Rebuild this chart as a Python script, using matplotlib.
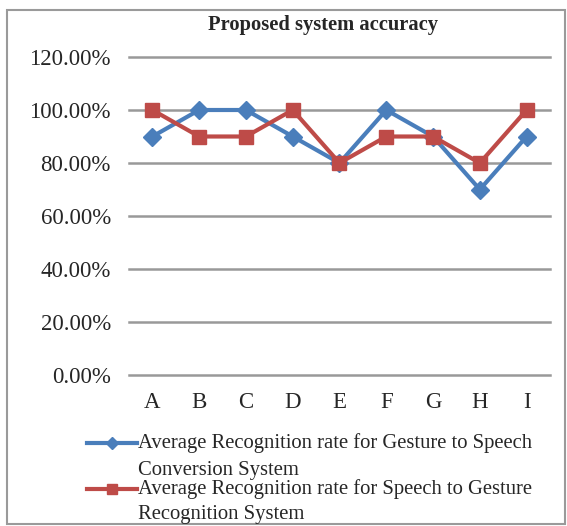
import matplotlib
matplotlib.use("Agg")
import matplotlib.pyplot as plt
from matplotlib.lines import Line2D
from matplotlib.patches import Rectangle
from matplotlib.ticker import FuncFormatter

categories = ["A", "B", "C", "D", "E", "F", "G", "H", "I"]
gesture_to_speech = [90, 100, 100, 90, 80, 100, 90, 70, 90]
speech_to_gesture = [100, 90, 90, 100, 80, 90, 90, 80, 100]
y_ticks = [0, 20, 40, 60, 80, 100, 120]
series_labels = [
    "Average Recognition rate for Gesture to Speech\nConversion System",
    "Average Recognition rate for Speech to Gesture\nRecognition System",
]
title = "Proposed system accuracy"

BLUE = "#4A7EBB"
RED = "#BE4B48"
GRID = "#999999"
TEXT = "#262626"

plt.rcParams["font.family"] = ["Liberation Serif", "DejaVu Serif"]

fig = plt.figure(figsize=(5.67, 5.26), dpi=100)
W, H = 567, 526

def fx(px):
    return px / W

def fy(py):
    return 1 - py / H

ax = fig.add_axes([fx(129), fy(375), fx(550) - fx(129), fy(57) - fy(375)])

x = list(range(len(categories)))
ax.plot(x, gesture_to_speech, color=BLUE, lw=3, marker="D", ms=9,
        markeredgecolor=BLUE, zorder=3)
ax.plot(x, speech_to_gesture, color=RED, lw=3, marker="s", ms=10.5,
        markeredgecolor=RED, zorder=4)

ax.set_xlim(-0.5, len(categories) - 0.5)
ax.set_ylim(0, 120)
ax.set_yticks(y_ticks)
ax.yaxis.set_major_formatter(FuncFormatter(lambda v, p: f"{v:.2f}%"))
ax.set_xticks(x)
ax.set_xticklabels(categories)
ax.tick_params(axis="both", length=0, labelsize=16.5, colors=TEXT)
ax.tick_params(axis="y", pad=13)
ax.tick_params(axis="x", pad=12)
for s in ax.spines.values():
    s.set_visible(False)
for t in y_ticks:
    ax.axhline(t, color=GRID, lw=1.8, zorder=1, clip_on=False)

fig.text(fx(323), fy(25), title, ha="center", va="center",
         fontsize=14.8, fontweight="bold", color=TEXT)

# legend drawn beneath the plot: one marker line, then two text lines per series
legend_rows = [(443, 470, BLUE, "D", 6), (489, 514, RED, "s", 7)]
for (py, py2, col, mk, ms), lab in zip(legend_rows, series_labels):
    fig.add_artist(Line2D([fx(87), fx(137)], [fy(py), fy(py)], color=col,
                          lw=3, transform=fig.transFigure))
    fig.add_artist(Line2D([fx(112)], [fy(py)], color=col, marker=mk, ms=ms,
                          markeredgecolor=col, transform=fig.transFigure))
    first, second = lab.split("\n")
    fig.text(fx(138), fy(py), first, ha="left", va="center", fontsize=14.9,
             color=TEXT)
    fig.text(fx(138), fy(py2), second, ha="left", va="center", fontsize=14.9,
             color=TEXT)

fig.add_artist(Rectangle((fx(7), fy(524)), fx(565) - fx(7), fy(10) - fy(524),
                         fill=False, edgecolor="#9A9A9A", lw=1.5,
                         transform=fig.transFigure))

fig.savefig("out.png", dpi=100)
